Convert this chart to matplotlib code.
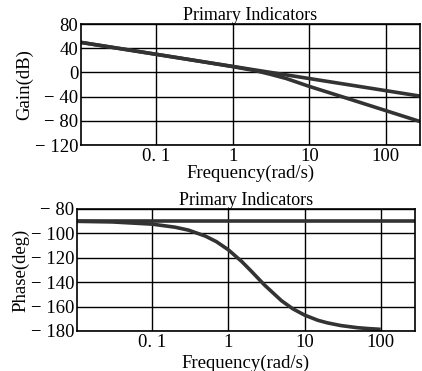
import matplotlib
matplotlib.use("Agg")
import matplotlib.pyplot as plt
from matplotlib.ticker import FixedLocator, FixedFormatter, NullLocator

plt.rcParams['font.family'] = ['Liberation Serif', 'DejaVu Serif']

# Gain plot data
freq_gain1 = [0.01, 0.1, 1, 10, 100, 280]
gain1 = [50, 30, 10, -10, -30, -39]
freq_gain2 = [0.01, 0.1, 0.3, 1, 2, 3, 5, 10, 30, 100, 280]
gain2 = [50, 30, 20.4, 9.7, 2.8, -2.5, -10, -23, -42, -63, -81]

# Phase plot data
freq_phase1 = [0.01, 280]
phase1 = [-90, -90]
freq_phase2 = [0.01, 0.03, 0.1, 0.2, 0.3, 0.5, 0.7, 1, 1.5, 2, 3, 5, 7, 10,
               15, 20, 30, 50, 70, 100]
phase2 = [-90.2, -90.7, -92.5, -95.0, -97.4, -102.3, -106.9, -113.5, -123.1,
          -131.0, -142.5, -155.3, -161.8, -167.0, -171.3, -173.4, -175.6,
          -177.4, -178.1, -178.7]

xticks = [0.1, 1, 10, 100]
xticklabels = ['0. 1', '1', '10', '100']
gain_ticks = [80, 40, 0, -40, -80, -120]
gain_ticklabels = ['80', '40', '0', '\u2212 40', '\u2212 80', '\u2212 120']
phase_ticks = [-80, -100, -120, -140, -160, -180]
phase_ticklabels = ['\u2212 80', '\u2212 100', '\u2212 120', '\u2212 140',
                    '\u2212 160', '\u2212 180']

title = 'Primary Indicators'
xlabel = 'Frequency(rad/s)'

fig = plt.figure(figsize=(4.22, 3.71), dpi=100)
ax1 = fig.add_axes([0.192, 0.609, 0.803, 0.326])
ax2 = fig.add_axes([0.182, 0.108, 0.801, 0.329])

line_kw = dict(color='#333333', lw=2.6, solid_capstyle='butt')
fs = 13.5

def style(ax, yticks, ylabels, ylim, ylabel):
    ax.set_xscale('log')
    ax.set_xlim(0.0103, 280)
    ax.set_ylim(*ylim)
    ax.xaxis.set_major_locator(FixedLocator(xticks))
    ax.xaxis.set_major_formatter(FixedFormatter(xticklabels))
    ax.xaxis.set_minor_locator(NullLocator())
    ax.yaxis.set_major_locator(FixedLocator(yticks))
    ax.yaxis.set_major_formatter(FixedFormatter(ylabels))
    ax.grid(True, color='black', lw=1.0)
    ax.tick_params(length=0, labelsize=fs, pad=2)
    for s in ax.spines.values():
        s.set_color('black')
        s.set_linewidth(1.2)
    ax.set_title(title, fontsize=13, pad=1)
    ax.set_xlabel(xlabel, fontsize=fs, labelpad=0)
    ax.set_ylabel(ylabel, fontsize=fs, labelpad=1)

ax1.plot(freq_gain1, gain1, **line_kw)
ax1.plot(freq_gain2, gain2, **line_kw)
style(ax1, gain_ticks, gain_ticklabels, (-120, 80), 'Gain(dB)')

ax2.plot(freq_phase1, phase1, **line_kw)
ax2.plot(freq_phase2, phase2, **line_kw)
style(ax2, phase_ticks, phase_ticklabels, (-180, -80), 'Phase(deg)')
ax2.xaxis.labelpad = 3

fig.savefig('out.png', dpi=100)
